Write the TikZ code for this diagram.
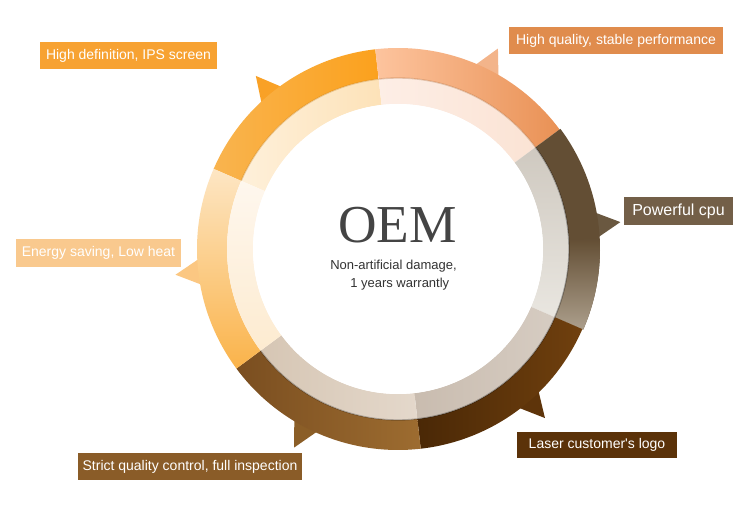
\documentclass[tikz,border=0pt]{standalone}
\usepackage{fontspec}
\setmainfont{Liberation Sans}
\newfontfamily\oemfont{Liberation Serif}
\definecolor{lab1}{HTML}{F7A232}
\definecolor{lab2}{HTML}{E08C4D}
\definecolor{lab3}{HTML}{735F48}
\definecolor{lab4}{HTML}{5B3209}
\definecolor{lab5}{HTML}{8A5C28}
\definecolor{lab6}{HTML}{F9C98E}
\definecolor{tri1}{HTML}{F9A126}
\definecolor{tri2}{HTML}{F3B48A}
\definecolor{tri3}{HTML}{6A5840}
\definecolor{tri4}{HTML}{5E340A}
\definecolor{tri5}{HTML}{8B5E27}
\definecolor{tri6}{HTML}{FBC782}
\definecolor{cpudark}{HTML}{634E34}
\definecolor{cpulight}{HTML}{AC9F8C}
\definecolor{oemgray}{HTML}{444444}
\definecolor{subgray}{HTML}{333333}
\newcommand{\ringsec}[4]{(#1:#3) arc[start angle=#1,end angle=#2,radius=#3] -- (#2:#4) arc[start angle=#2,end angle=#1,radius=#4] -- cycle}
\newcommand{\ringtri}[1]{(#1-4:198) -- (#1:224) -- (#1+4:198) -- cycle}
\begin{document}
\begin{tikzpicture}[x=0.75pt,y=0.75pt,
  lbl/.style={rectangle, inner sep=0pt, text=white, font=\fontsize{10.5}{12}\selectfont, minimum height=27*0.75pt}]
\useasboundingbox[fill=white] (0,0) rectangle (750,514);
\begin{scope}[shift={(398,265)}]
  % pointers
  \fill[tri1] \ringtri{129.4};
  \fill[tri2] \ringtri{63.5};
  \fill[tri3] \ringtri{6.9};
  \fill[tri4] \ringtri{-49};
  \fill[tri5] \ringtri{242.4};
  \fill[tri6] \ringtri{186.6};
  % outer band
  \shade[left color={rgb,255:red,249;green,180;blue,79}, right color={rgb,255:red,251;green,161;blue,29}] \ringsec{96.5}{156.5}{201}{171};
  \shade[left color={rgb,255:red,253;green,196;blue,158}, right color={rgb,255:red,233;green,145;blue,85}] \ringsec{36.5}{96.5}{201}{171};
  \fill[cpudark] \ringsec{-23.5}{36.5}{202}{171};
  \shade[top color=cpudark, bottom color=cpulight] \ringsec{-23.5}{3}{202}{171};
  \shade[left color={rgb,255:red,74;green,40;blue,6}, right color={rgb,255:red,112;green,64;blue,14}] \ringsec{-83.5}{-23.5}{201}{171};
  \shade[left color={rgb,255:red,122;green,78;blue,32}, right color={rgb,255:red,157;green,108;blue,48}] \ringsec{-143.5}{-83.5}{201}{171};
  \shade[top color={rgb,255:red,253;green,230;blue,196}, bottom color={rgb,255:red,250;green,179;blue,74}] \ringsec{156.5}{216.5}{201}{171};
  % inner band
  \shade[left color={rgb,255:red,254;green,240;blue,218}, right color={rgb,255:red,253;green,226;blue,184}] \ringsec{96.5}{156.5}{171}{145};
  \shade[left color={rgb,255:red,253;green,238;blue,230}, right color={rgb,255:red,251;green,227;blue,212}] \ringsec{36.5}{96.5}{171}{145};
  \shade[top color={rgb,255:red,207;green,201;blue,192}, bottom color={rgb,255:red,233;green,230;blue,224}] \ringsec{-23.5}{36.5}{171}{145};
  \shade[left color={rgb,255:red,201;green,188;blue,175}, right color={rgb,255:red,214;green,204;blue,194}] \ringsec{-83.5}{-23.5}{171}{145};
  \shade[left color={rgb,255:red,214;green,198;blue,180}, right color={rgb,255:red,228;green,216;blue,203}] \ringsec{-143.5}{-83.5}{171}{145};
  \shade[top color={rgb,255:red,254;green,247;blue,238}, bottom color={rgb,255:red,253;green,235;blue,208}] \ringsec{156.5}{216.5}{171}{145};
  % seam shadows
  \draw[tri1!80!black, opacity=0.35, line width=1] (96.5:171) arc[start angle=96.5,end angle=156.5,radius=171];
  \draw[lab2!80!black, opacity=0.35, line width=1] (36.5:171) arc[start angle=36.5,end angle=96.5,radius=171];
  \draw[black, opacity=0.3, line width=1] (-23.5:171) arc[start angle=-23.5,end angle=36.5,radius=171];
  \draw[black, opacity=0.3, line width=1] (-83.5:171) arc[start angle=-83.5,end angle=-23.5,radius=171];
  \draw[black, opacity=0.25, line width=1] (-143.5:171) arc[start angle=-143.5,end angle=-83.5,radius=171];
  \fill[white] (0,0) circle[radius=145];
\end{scope}
% centre text
\node[anchor=base, inner sep=0pt, text=oemgray, font=\oemfont\fontsize{40}{44}\selectfont] (oem) at (397.5,271) {OEM};
\node[anchor=base west, inner sep=0pt, text=subgray, font=\fontsize{9.75}{11}\selectfont] (sub1) at (330,244) {Non-artificial damage,};
\node[anchor=base west, inner sep=0pt, text=subgray, font=\fontsize{9.75}{11}\selectfont] (sub2) at (350,226) {1 years warrantly};
% labels
\node[lbl, fill=lab1, minimum width=177*0.75pt] (t1) at (128.5,458.5) {High definition, IPS screen};
\node[lbl, fill=lab2, minimum width=214*0.75pt] (t2) at (616,473.5) {High quality, stable performance};
\node[lbl, fill=lab3, minimum width=109*0.75pt, minimum height=28*0.75pt, font=\fontsize{12}{14}\selectfont] (t3) at (678.5,303) {Powerful cpu};
\node[lbl, fill=lab4, minimum width=160*0.75pt, minimum height=26*0.75pt] (t4) at (597,69) {Laser customer\textquotesingle s logo};
\node[lbl, fill=lab5, minimum width=224*0.75pt] (t5) at (190,47.5) {Strict quality control, full inspection};
\node[lbl, fill=lab6, minimum width=165*0.75pt, minimum height=28*0.75pt] (t6) at (98.5,261) {Energy saving, Low heat};
\end{tikzpicture}
\end{document}
